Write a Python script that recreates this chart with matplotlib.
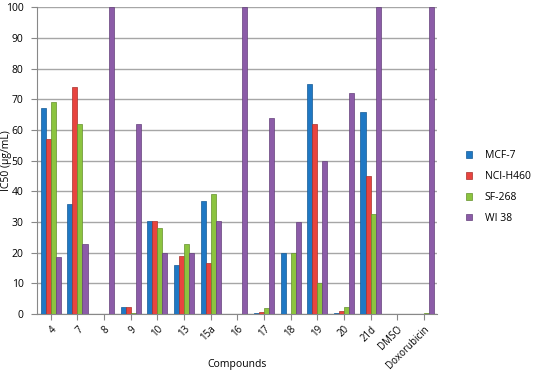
import matplotlib
matplotlib.use("Agg")
import matplotlib.pyplot as plt
import numpy as np

categories = ["4", "7", "8", "9", "10", "13", "15a", "16", "17", "18", "19", "20", "21d", "DMSO", "Doxorubicin"]
mcf7 = [67, 36, 0.2, 2.3, 30.5, 16, 37, 0.1, 0.5, 20, 75, 0.5, 66, 0.2, 0.1]
nci_h460 = [57, 74, 0.2, 2.2, 30.5, 19, 16.5, 0.2, 0.8, 0.2, 62, 1, 45, 0.2, 0.2]
sf268 = [69, 62, 0.2, 0.3, 28, 23, 39, 0.1, 2, 20, 10, 2.3, 32.5, 0.2, 0.3]
wi38 = [18.5, 23, 100, 62, 20, 20, 30.5, 100, 64, 30, 50, 72, 100, 0.2, 100]
series_names = ["MCF-7", "NCI-H460", "SF-268", "WI 38"]
colors = ["#1F78C4", "#E8443F", "#8CC43F", "#8C5CA8"]
edges = ["#155A94", "#A8302C", "#64902C", "#64407A"]

plt.rcParams['font.family'] = ['Open Sans', 'DejaVu Sans']

fig = plt.figure(figsize=(5.5, 3.74), dpi=100)
ax = fig.add_axes([0.068, 0.16, 0.727, 0.821])

x = np.arange(len(categories))
w = 0.19
for i, (vals, name) in enumerate(zip([mcf7, nci_h460, sf268, wi38], series_names)):
    ax.bar(x + (i - 1.5) * w, vals, w, color=colors[i], edgecolor=edges[i],
           linewidth=0.5, label=name, zorder=3)

ax.set_xlim(-0.5, len(categories) - 0.5)
ax.set_ylim(0, 100)
ax.set_yticks(np.arange(0, 101, 10))
ax.yaxis.grid(True, color="#A6A6A6", linewidth=1.0, zorder=0)
ax.set_xticks(x)
ax.set_xticklabels(categories, rotation=45, ha="right", rotation_mode="anchor", fontsize=7)
ax.tick_params(axis="y", labelsize=7.5, length=4, color="#888888", pad=6)
ax.tick_params(axis="x", length=4, color="#888888", pad=3)
for s in ["top", "right"]:
    ax.spines[s].set_visible(False)
ax.spines["left"].set_color("#888888")
ax.spines["bottom"].set_color("#888888")
ax.set_ylabel("IC50 (µg/mL)", fontsize=7.5)
ax.yaxis.set_label_coords(-0.064, 0.5)
ax.set_xlabel("Compounds", fontsize=7.5)
ax.xaxis.set_label_coords(0.5, -0.145)

leg = fig.legend(loc="center left", bbox_to_anchor=(0.83, 0.5), frameon=False,
                 fontsize=7.5, handlelength=0.6, handleheight=0.6, labelspacing=0.95,
                 handletextpad=1.2)

fig.savefig("out.png", dpi=100)
